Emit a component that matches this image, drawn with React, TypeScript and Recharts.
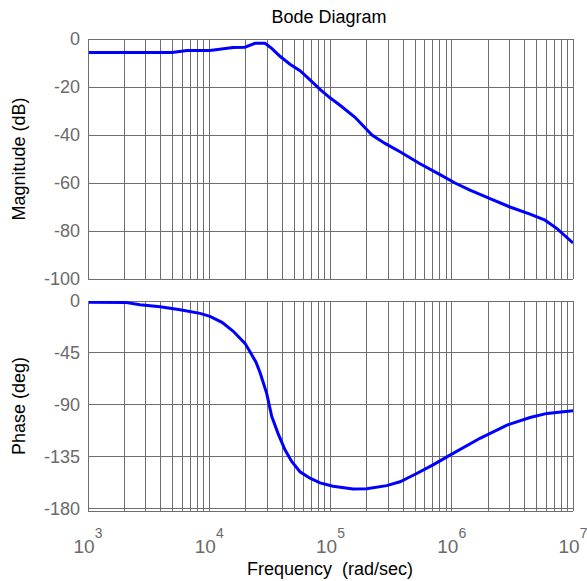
import React from 'react';
import { LineChart, Line, XAxis, YAxis, CartesianGrid } from 'recharts';

// Frequency (rad/sec) samples for the magnitude curve
const magFreq = [
  1000, 4930, 6550, 10140, 15700, 19720, 23840, 28830, 32920, 38320, 46340, 56040,
  67760, 81930, 99060, 119800, 159300, 192600, 219900, 281500, 374300, 547200,
  800000, 1064000, 1414000, 2068000, 3023000, 4420000, 5877000, 7379000, 10000000,
];
// Magnitude (dB)
const magDb = [
  -5.6, -5.6, -4.8, -4.8, -3.5, -3.4, -1.8, -1.8, -4.0, -7.2, -10.5, -13.2,
  -17, -21, -24.5, -27.6, -32.6, -37, -40, -43.5, -47, -52,
  -56.5, -60, -63, -66.5, -70, -73, -75.5, -79, -85,
];

// Frequency (rad/sec) samples for the phase curve
const phaseFreq = [
  1000, 2019, 2685, 3925, 5738, 8390, 10140, 12740, 15700, 19720, 21680, 24300,
  26220, 29770, 32740, 36900, 42140, 47860, 56040, 67760, 81930, 104900, 153300,
  198900, 290700, 374300, 514000, 700600, 967400, 1710000, 2856000, 4420000,
  6103000, 10000000,
];
// Phase (deg)
const phaseDeg = [
  -1.1, -1.2, -3.2, -5, -7.5, -10.7, -13.3, -18.5, -26, -36.7, -44, -53,
  -62, -80, -100, -114.7, -129, -139, -148, -153.6, -157.6, -160.5, -163,
  -162.8, -160, -156.7, -149.5, -142, -133.6, -119, -107.5, -101,
  -97.4, -95.1,
];

const decades = [1000, 10000, 100000, 1000000, 10000000];
const minorMultipliers = [2, 3, 4, 5, 6, 7, 8, 9];
const magTicks = [-100, -80, -60, -40, -20, 0];
const phaseTicks = [-180, -135, -90, -45, 0];

const gridTicks: number[] = [];
decades.forEach((d, i) => {
  gridTicks.push(d);
  if (i < decades.length - 1) minorMultipliers.forEach((m) => gridTicks.push(d * m));
});

const magData = magFreq.map((f, i) => ({ f, v: magDb[i] }));
const phaseData = phaseFreq.map((f, i) => ({ f, v: phaseDeg[i] }));

const FONT = '"Liberation Sans", Arial, Helvetica, sans-serif';
const GRID = '#6e6e6e';
const TICK_FILL = '#6a6a6a';

const XTick = (props: any) => {
  const { x, y, payload } = props;
  const v = payload.value as number;
  const exp = Math.round(Math.log10(v));
  if (Math.abs(v - Math.pow(10, exp)) > 1e-6 * v) return <g />;
  return (
    <text x={x} y={y + 34} textAnchor="middle" fill={TICK_FILL} fontFamily={FONT}>
      <tspan fontSize={19}>10</tspan>
      <tspan fontSize={14} dy={-15}>{exp}</tspan>
    </text>
  );
};

const EmptyTick = () => <g />;

export default function App() {
  return (
    <div style={{ position: 'absolute', left: 0, top: 0, width: 587, height: 581, background: '#fff' }}>
      <div style={{ position: 'absolute', left: 0, top: 0 }}>
        <LineChart width={587} height={300} data={magData} margin={{ top: 39, right: 14, bottom: 0, left: 0 }}>
          <CartesianGrid stroke={GRID} strokeWidth={1} shapeRendering="crispEdges" />
          <XAxis
            dataKey="f"
            type="number"
            scale="log"
            domain={[1000, 10000000]}
            ticks={gridTicks}
            height={21}
            tick={<EmptyTick />}
            tickLine={false}
            axisLine={false}
            interval={0}
            allowDataOverflow
          />
          <YAxis
            type="number"
            domain={[-100, 0]}
            ticks={magTicks}
            width={88}
            tickLine={false}
            axisLine={{ stroke: GRID, shapeRendering: 'crispEdges' }}
            tick={{ fill: TICK_FILL, fontSize: 18, fontFamily: FONT }}
            interval={0}
          />
          <Line type="linear" dataKey="v" stroke="#0000ff" strokeWidth={3} dot={false} isAnimationActive={false} />
        </LineChart>
      </div>
      <div style={{ position: 'absolute', left: 0, top: 0 }}>
        <LineChart width={587} height={581} data={phaseData} margin={{ top: 301, right: 14, bottom: 0, left: 0 }}>
          <CartesianGrid stroke={GRID} strokeWidth={1} shapeRendering="crispEdges" />
          <XAxis
            dataKey="f"
            type="number"
            scale="log"
            domain={[1000, 10000000]}
            ticks={gridTicks}
            height={70}
            tickLine={false}
            axisLine={{ stroke: GRID, shapeRendering: 'crispEdges' }}
            tick={<XTick />}
            interval={0}
            allowDataOverflow
          />
          <YAxis
            type="number"
            domain={[-182, 0]}
            ticks={phaseTicks}
            width={88}
            tickLine={false}
            axisLine={{ stroke: GRID, shapeRendering: 'crispEdges' }}
            tick={{ fill: TICK_FILL, fontSize: 18, fontFamily: FONT }}
            interval={0}
            allowDataOverflow
          />
          <Line type="linear" dataKey="v" stroke="#0000ff" strokeWidth={3} dot={false} isAnimationActive={false} />
        </LineChart>
      </div>
      <svg width={587} height={581} style={{ position: 'absolute', left: 0, top: 0, pointerEvents: 'none' }}>
        <text x={329} y={23} textAnchor="middle" fontSize={18} fontFamily={FONT} fill="#000">Bode Diagram</text>
        <text transform="translate(25,159) rotate(-90)" textAnchor="middle" fontSize={18} fontFamily={FONT} fill="#000">Magnitude (dB)</text>
        <text transform="translate(25,406) rotate(-90)" textAnchor="middle" fontSize={18} fontFamily={FONT} fill="#000">Phase (deg)</text>
        <text x={330} y={575} textAnchor="middle" fontSize={18} fontFamily={FONT} fill="#000" style={{ whiteSpace: 'pre' }}>Frequency  (rad/sec)</text>
      </svg>
    </div>
  );
}
